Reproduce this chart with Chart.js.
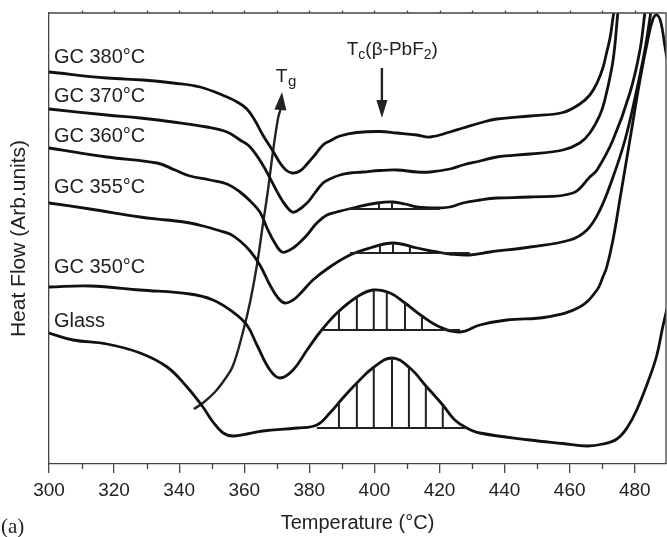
<!DOCTYPE html>
<html><head><meta charset="utf-8">
<script src="https://cdn.jsdelivr.net/npm/chart.js@4.4.1/dist/chart.umd.min.js"></script>
<style>html,body{margin:0;padding:0;background:#fff;}#wrap{width:667px;height:537px;}</style>
</head><body><div id="wrap"><canvas id="c" width="667" height="537"></canvas></div>
<script>
// ---- axis ticks ----
const xTicks = [300,320,340,360,380,400,420,440,460,480];
const xMinorTicks = [310,330,350,370,390,410,430,450,470];
const xTopTicks = [310,320,330,340,350,360,370,380,390,400,410,420,430,440,450,460,470,480];

// ---- DSC curves (temperature °C, heat flow arb. units) ----
const gc380T = [300.0,317.8,328.9,338.1,346.4,354.7,357.8,360.8,363.2,365.7,368.8,371.0,372.8,374.7,377.1,379.3,381.7,384.2,386.3,389.4,394.6,401.7,406.9,413.1,417.1,423.2,427.2,432.4,437.6,447.8,457.9,463.1,466.2,468.4,470.2,471.4,472.4,473.3,473.9];
const gc380HF = [392,386,384,381,377,367,362,355,344,329,313,301,294,291,293,300,309,319,323,328,331.5,332.5,331,329,327,332,336,341,345,348,351.5,360,369,381,396,412,426,446,459];

const gc370T = [300.0,317.8,328.0,338.1,348.5,354.7,358.7,361.8,365.7,371.0,373.1,374.7,376.2,379.3,381.7,384.2,386.3,389.4,392.5,396.5,401.7,406.9,413.1,417.1,423.2,427.2,432.4,437.6,447.8,457.9,463.1,466.2,469.3,470.8,473.0,473.9,474.8,475.4];
const gc370HF = [355,349,346,342,337,332,324,317,299,267,257,252,253,261,271,281,285,289,291,292,293.5,294,292,292,295,299,303,307,310,314,321,331,349,364,397,419,451,464];

const gc360T = [300.0,317.8,333.2,338.7,343.3,349.5,354.7,358.7,361.8,364.8,367.0,369.4,371.6,374.0,376.2,379.3,382.3,385.4,388.5,394.6,400.8,405.7,409.4,413.1,419.2,423.2,427.2,432.4,437.6,447.8,461.0,466.2,468.4,473.3,478.5,481.6,483.1,483.7];
const gc360HF = [316,307,301,294,288,284,280,272,263,252,236,221,212,214,219,229,241,249,252,257,261,262,260,257,256,257,261,264,266,267,271,287,294,324,371,414,451,464];

const gc355T = [300.0,312.6,328.0,336.3,343.3,348.5,351.6,355.6,358.7,361.8,364.8,367.9,370.4,372.5,375.0,377.1,381.1,386.3,392.5,398.6,405.7,413.1,419.2,423.2,429.3,435.5,447.8,460.1,465.3,469.3,473.0,477.0,480.6,483.1,484.9,485.5];
const gc355HF = [261,255,247,244,241,237,234,230,223,213,199,179,166,161,164,170,184,197,209,216,221,216,212,210,209,212,217,224,234,254,284,324,374,414,451,464];

const gc350T = [300.0,312.6,328.0,343.3,350.4,356.5,360.8,363.9,367.9,371.0,375.0,379.3,383.3,388.5,394.6,399.5,404.8,409.4,414.6,420.1,426.3,432.4,440.7,453.0,463.1,468.4,470.2,471.4,473.3,475.4,478.5,481.6,484.0,485.5,486.8,488.0,489.2,489.8];
const gc350HF = [177,178,174,170,164,152,139,119,94,86,94,114,132,151,167,174,171,161,148,137,132,139,144,147,157,174,187,197,224,264,324,384,424,444,449,442,419,407];

const glassT = [300.0,307.4,317.8,328.0,336.3,342.4,347.3,350.4,353.5,356.5,360.8,365.7,376.2,382.3,386.3,390.3,394.6,399.5,405.4,410.9,416.1,421.0,424.7,428.4,432.4,447.8,457.9,465.3,470.2,474.5,477.6,480.6,484.6,486.8,488.6,489.8];
const glassHF = [131,124,120,111,97,77,57,42,31,28,30,33,36,39,51,66,81,96,106,96,77,59,44,36,31,24,20.5,18,20,25,36,54,87,109,137,154];

// ---- crystallisation peak hatching (positions in °C, baseline level) ----
const glassHatchT = [389.1,394.6,399.8,405.4,410.6,415.8,421.0];
const glassBase = [382.3,428.4,36];
const gc350HatchT = [389.1,394.6,399.8,403.8,409.4,414.6];
const gc350Base = [383.3,426.3,134];
const gc355HatchT = [401.7,405.7,410.9];
const gc355Base = [392.5,429.3,211];
const gc360HatchT = [401.4,405.4];
const gc360Base = [391.5,420.1,255];

// ---- Tg arrow path (°C, arb.) ----
const tgArrowT = [344.5,347.3,351.0,354.1,356.5,359.6,361.8,363.9,365.7,367.3,368.8,370.4,371.1];
const tgArrowHF = [55,61,72,85,98,132,162,199,239,274,312,346,354];
const tgTip = [371.6,372];
const tcArrow = [402.3,396,364,346]; // T, top, head base, tip

const curveLabels = ['GC 380°C','GC 370°C','GC 360°C','GC 355°C','GC 350°C','Glass'];
const curveLabelHF = [401,362,322,271,191,137];

const INK = '#111';
const AXIS = '#444';
const FONT = '"Liberation Sans", Arial, Helvetica, sans-serif';

function pts(T, V){ return T.map((t,i)=>({x:t,y:V[i]})); }
function interp(T, V, t){
  for(let i=0;i<T.length-1;i++){
    if(t>=T[i] && t<=T[i+1]){ const f=(t-T[i])/(T[i+1]-T[i]); return V[i]+f*(V[i+1]-V[i]); }
  }
  return V[V.length-1];
}
function curve(T,V){
  return {data:pts(T,V), borderColor:INK, borderWidth:2.8, pointRadius:0, fill:false,
          tension:0.4, clip:0, borderCapStyle:'round', borderJoinStyle:'round'};
}
function hatch(HT, base, T, V){
  const d=[];
  HT.forEach(t=>{ d.push({x:t,y:base[2]}); d.push({x:t,y:interp(T,V,t)}); d.push({x:t,y:null}); });
  return {data:d, borderColor:'#222', borderWidth:2, pointRadius:0, spanGaps:false, tension:0, clip:0};
}
function baseLine(base){
  return {data:[{x:base[0],y:base[2]},{x:base[1],y:base[2]}], borderColor:'#222', borderWidth:2, pointRadius:0, tension:0, clip:0};
}

const datasets = [
  hatch(glassHatchT, glassBase, glassT, glassHF), baseLine(glassBase),
  hatch(gc350HatchT, gc350Base, gc350T, gc350HF), baseLine(gc350Base),
  hatch(gc355HatchT, gc355Base, gc355T, gc355HF), baseLine(gc355Base),
  hatch(gc360HatchT, gc360Base, gc360T, gc360HF), baseLine(gc360Base),
  curve(gc380T,gc380HF), curve(gc370T,gc370HF), curve(gc360T,gc360HF),
  curve(gc355T,gc355HF), curve(gc350T,gc350HF), curve(glassT,glassHF),
  {data:pts(tgArrowT,tgArrowHF), borderColor:'#222', borderWidth:2.4, pointRadius:0, tension:0.4, clip:0},
  {data:[{x:tcArrow[0],y:tcArrow[1]},{x:tcArrow[0],y:tcArrow[2]}], borderColor:'#222', borderWidth:2.4, pointRadius:0, clip:0}
];

function arrowHead(ctx, bx, by, tx, ty, hw){
  const dx=tx-bx, dy=ty-by, L=Math.hypot(dx,dy), nx=-dy/L, ny=dx/L;
  ctx.beginPath(); ctx.moveTo(tx,ty); ctx.lineTo(bx+nx*hw,by+ny*hw); ctx.lineTo(bx-nx*hw,by-ny*hw); ctx.closePath(); ctx.fill();
}

const deco = {
  id:'deco',
  afterDatasetsDraw(chart){
    const {ctx, chartArea:a, scales:{x,y}} = chart;
    ctx.save();
    ctx.strokeStyle=AXIS; ctx.lineWidth=1.3;
    ctx.beginPath(); ctx.moveTo(a.left,a.top); ctx.lineTo(a.right,a.top); ctx.lineTo(a.right,a.bottom); ctx.stroke();
    ctx.beginPath();
    xMinorTicks.forEach(v=>{const p=Math.round(x.getPixelForValue(v))+0.5; ctx.moveTo(p,a.bottom); ctx.lineTo(p,a.bottom+5);});
    xTopTicks.forEach(v=>{const p=Math.round(x.getPixelForValue(v))+0.5; ctx.moveTo(p,a.top); ctx.lineTo(p,a.top-2.5);});
    ctx.stroke();
    // arrow heads
    ctx.fillStyle='#222';
    const n=tgArrowT.length-1;
    arrowHead(ctx, x.getPixelForValue(tgArrowT[n]), y.getPixelForValue(tgArrowHF[n]), x.getPixelForValue(tgTip[0]), y.getPixelForValue(tgTip[1]), 6);
    arrowHead(ctx, x.getPixelForValue(tcArrow[0]), y.getPixelForValue(tcArrow[2]), x.getPixelForValue(tcArrow[0]), y.getPixelForValue(tcArrow[3]), 5.5);
    // curve labels
    ctx.fillStyle='#222'; ctx.textBaseline='alphabetic'; ctx.textAlign='left';
    ctx.font='20px '+FONT;
    const lx = x.getPixelForValue(301.5);
    curveLabels.forEach((s,i)=>ctx.fillText(s, lx, y.getPixelForValue(curveLabelHF[i])));
    // Tg label
    let px = x.getPixelForValue(369.7), py = y.getPixelForValue(382);
    ctx.font='19px '+FONT; ctx.fillText('T', px, py);
    px += ctx.measureText('T').width;
    ctx.font='15px '+FONT; ctx.fillText('g', px+0.5, py+4);
    // Tc label
    px = x.getPixelForValue(391.5); py = y.getPixelForValue(409);
    const parts = [['T',19,0],['c',14,4],['(β-PbF',19,0],['2',14,4],[')',19,0]];
    parts.forEach(p=>{ ctx.font=p[1]+'px '+FONT; ctx.fillText(p[0], px, py+p[2]); px += ctx.measureText(p[0]).width; });
    // panel label
    ctx.font='21px "Liberation Serif", "Times New Roman", serif';
    ctx.fillText('(a)', 1, chart.height-4);
    ctx.restore();
  }
};

Chart.defaults.font.family = FONT;
new Chart(document.getElementById('c'), {
  type:'line',
  data:{datasets},
  plugins:[deco],
  options:{
    responsive:false, animation:false, devicePixelRatio:1,
    layout:{padding:{top:13,right:1,left:0,bottom:0}},
    plugins:{legend:{display:false}, tooltip:{enabled:false}},
    scales:{
      x:{type:'linear', min:300, max:489.6,
        afterBuildTicks:s=>{s.ticks=xTicks.map(v=>({value:v}));},
        afterFit:s=>{s.height=73;},
        ticks:{color:'#222', font:{size:19}, padding:6, maxRotation:0, callback:v=>String(v)},
        grid:{display:true, drawOnChartArea:false, drawTicks:true, tickLength:9, color:AXIS, lineWidth:1.3},
        border:{display:true, color:AXIS, width:1.3},
        title:{display:true, text:'Temperature (°C)', color:'#222', font:{size:20}, padding:{top:0,bottom:2}}
      },
      y:{type:'linear', min:0, max:451,
        afterFit:s=>{s.width=49;},
        ticks:{display:false},
        grid:{display:false},
        border:{display:true, color:AXIS, width:1.3},
        title:{display:true, text:'Heat Flow (Arb.units)', color:'#222', font:{size:21}, padding:{top:7,bottom:0}}
      }
    }
  }
});
</script></body></html>
